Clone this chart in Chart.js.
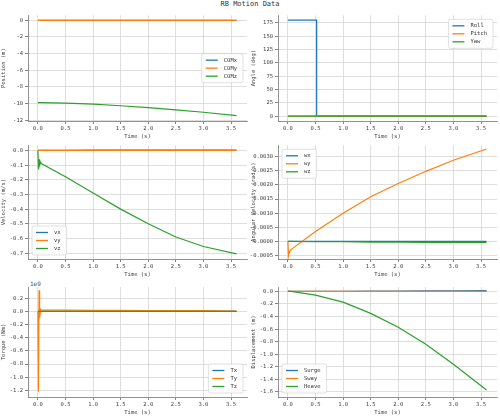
<!DOCTYPE html>
<html><head><meta charset="utf-8">
<script src="https://cdn.jsdelivr.net/npm/chart.js@4"></script>
<style>
body{margin:0;background:#fff;width:500px;height:416px;position:relative;overflow:hidden;font-family:"DejaVu Sans Mono",monospace}
canvas{position:absolute}
#title{position:absolute;top:0;left:0;width:500px;text-align:center;font-size:7px;color:#333}
#e9{position:absolute;left:30px;top:280px;font-size:6px;color:#555}
</style></head><body>
<div id="title">RB Motion Data</div>
<div id="e9">1e9</div>
<canvas id="c0" style="left:0;top:10px;width:250px;height:130px"></canvas>
<canvas id="c1" style="left:250px;top:10px;width:250px;height:130px"></canvas>
<canvas id="c2" style="left:0;top:140px;width:250px;height:138px"></canvas>
<canvas id="c3" style="left:250px;top:140px;width:250px;height:138px"></canvas>
<canvas id="c4" style="left:0;top:278px;width:250px;height:138px"></canvas>
<canvas id="c5" style="left:250px;top:278px;width:250px;height:138px"></canvas>
<script>
// 시간 축 (s)
const t = [0, 0.01, 0.02, 0.03, 0.05, 0.06, 0.5, 1.0, 1.5, 2.0, 2.5, 3.0, 3.6];
// 위치 (m)
const comX = [0, 0, 0, 0, 0, 0, 0, 0, 0, 0, 0, 0, 0];
const comY = [0, 0, 0, 0, 0, 0, 0, 0, 0, 0, 0, 0, 0];
const comZ = [-9.9, -9.9, -9.9, -9.9, -9.9, -9.9, -9.95, -10.08, -10.27, -10.5, -10.76, -11.05, -11.45];
// 각도 (deg)
const tRoll = [0, 0.52, 0.521, 3.6];
const roll = [180, 180, 0, 0];
const pitch = [0, 0, 0, 0];
const yaw = [0, 0, 0, 0];
// 속도 (m/s)
const vx = [0, 0, 0, 0, 0, 0, 0.001, 0.002, 0.002, 0.003, 0.003, 0.003, 0.003];
const vy = [0, 0, 0, 0, 0, 0, 0, 0, 0, 0, 0, 0, 0];
const vz = [0, -0.13, -0.06, -0.1, -0.08, -0.09, -0.18, -0.29, -0.4, -0.5, -0.59, -0.655, -0.705];
// 각속도 (rad/s)
const wx = [0, 0, 0, 0, 0, 0, 0, 0, 0, 0, 0, 0, 0];
const wy = [0, -0.0005, -0.0004, -0.00035, -0.0003, -0.00028, 0.00035, 0.001, 0.00158, 0.00205, 0.00248, 0.00287, 0.00327];
const wz = [0, 0, 0, 0, 0, 0, -0.00001, -0.00001, -0.00002, -0.00002, -0.00003, -0.00003, -0.00003];
// 토크 (x1e9 Nm)
const tx = [0, 0, 0, 0, 0, 0, 0, 0, 0, 0, 0, 0, 0];
const ty = [0, -1.22, 0.32, -0.1, 0.03, 0.02, 0.02, 0.015, 0.015, 0.01, 0.01, 0.01, 0.005];
const tz = [0, 0, 0, 0, 0, 0, 0, 0, 0, 0, 0, 0, 0];
// 변위 (m)
const surge = [0, 0, 0, 0, 0, 0, 0.001, 0.002, 0.004, 0.006, 0.008, 0.01, 0.012];
const sway = [0, 0, 0, 0, 0, 0, 0, 0, 0, 0, 0, 0, 0];
const heave = [0, 0, 0, 0, 0, 0, -0.06, -0.17, -0.35, -0.57, -0.84, -1.16, -1.57];

const colors = ['#1f77b4', '#ff7f0e', '#2ca02c'];
const pts = (xs, ys) => ys.map((y, i) => ({x: xs[i], y: y}));

// 축 안쪽에 그리는 범례
const innerLegend = {
    id: 'innerLegend',
    afterDraw(chart, args, opts) {
        const ctx = chart.ctx, a = chart.chartArea;
        const ds = chart.data.datasets;
        ctx.save();
        ctx.font = '5.5px "DejaVu Sans Mono"';
        const w = 8 + 14 + Math.max(...ds.map(d => ctx.measureText(d.label).width)) + 6;
        const h = ds.length * 8 + 5;
        let x, y;
        const p = opts.pos;
        x = p.includes('left') ? a.left + 4 : a.right - 4 - w;
        if (p.includes('upper')) y = a.top + 4;
        else if (p.includes('lower')) y = a.bottom - 4 - h;
        else y = (a.top + a.bottom) / 2 - h / 2;
        ctx.fillStyle = 'rgba(255,255,255,0.85)';
        ctx.strokeStyle = '#ccc';
        ctx.lineWidth = 0.6;
        ctx.beginPath(); ctx.roundRect(x, y, w, h, 2); ctx.fill(); ctx.stroke();
        ds.forEach((d, i) => {
            const yy = y + 6.5 + i * 8;
            ctx.strokeStyle = d.borderColor; ctx.lineWidth = 1.3;
            ctx.beginPath(); ctx.moveTo(x + 4, yy); ctx.lineTo(x + 16, yy); ctx.stroke();
            ctx.fillStyle = '#333'; ctx.textBaseline = 'middle';
            ctx.fillText(d.label, x + 22, yy);
        });
        ctx.restore();
    }
};

function makeChart(id, series, labels, yTitle, ymin, ymax, step, dec, legendPos, padTop) {
    new Chart(document.getElementById(id), {
        type: 'line',
        data: {
            datasets: series.map((s, i) => ({
                label: labels[i], data: s, borderColor: colors[i], backgroundColor: colors[i],
                borderWidth: 1.2, pointRadius: 0, tension: 0, order: 3 - i
            }))
        },
        options: {
            animation: false, responsive: false,
            layout: {padding: {top: padTop, right: 3, left: 0, bottom: 0}},
            plugins: {legend: {display: false}, tooltip: {enabled: false}, innerLegend: {pos: legendPos}},
            scales: {
                x: {
                    type: 'linear', min: -0.18, max: 3.79,
                    afterBuildTicks: ax => { ax.ticks = [0, 0.5, 1, 1.5, 2, 2.5, 3, 3.5].map(v => ({value: v})); },
                    afterFit: ax => { ax.height = 19; },
                    ticks: {font: {size: 5.5, family: 'DejaVu Sans Mono'}, color: '#444', padding: 1, maxRotation: 0,
                        callback: v => v.toFixed(1)},
                    grid: {color: '#d6d6d6', lineWidth: 0.8, tickLength: 3, tickColor: '#666'},
                    border: {color: '#777', width: 0.8},
                    title: {display: true, text: 'Time (s)', font: {size: 5.5, family: 'DejaVu Sans Mono'}, color: '#444', padding: 0}
                },
                y: {
                    min: ymin, max: ymax,
                    afterBuildTicks: ax => {
                        const out = [];
                        for (let v = Math.ceil(ymin / step) * step; v <= ymax + 1e-12; v += step) out.push({value: +v.toFixed(8)});
                        ax.ticks = out;
                    },
                    afterFit: ax => { ax.width = 28; },
                    ticks: {font: {size: 5.5, family: 'DejaVu Sans Mono'}, color: '#444', padding: 2,
                        callback: v => v.toFixed(dec)},
                    grid: {color: '#d6d6d6', lineWidth: 0.8, tickLength: 3, tickColor: '#666'},
                    border: {color: '#777', width: 0.8},
                    title: {display: true, text: yTitle, font: {size: 5.5, family: 'DejaVu Sans Mono'}, color: '#444', padding: 0}
                }
            }
        },
        plugins: [innerLegend]
    });
}

makeChart('c0', [pts(t, comX), pts(t, comY), pts(t, comZ)], ['COMx', 'COMy', 'COMz'], 'Position (m)', -12.1, 0.6, 2, 0, 'right', 3);
makeChart('c1', [pts(tRoll, roll), pts(tRoll, pitch), pts(tRoll, yaw)], ['Roll', 'Pitch', 'Yaw'], 'Angle (deg)', -9, 189, 25, 0, 'upper right', 3);
makeChart('c2', [pts(t, vx), pts(t, vy), pts(t, vz)], ['vx', 'vy', 'vz'], 'Velocity (m/s)', -0.74, 0.035, 0.1, 1, 'lower left', 5);
makeChart('c3', [pts(t, wx), pts(t, wy), pts(t, wz)], ['wx', 'wy', 'wz'], 'Angular Velocity (rad/s)', -0.00062, 0.0034, 0.0005, 4, 'upper left', 5);
makeChart('c4', [pts(t, tx), pts(t, ty), pts(t, tz)], ['Tx', 'Ty', 'Tz'], 'Torque (Nm)', -1.3, 0.37, 0.2, 1, 'lower right', 9);
makeChart('c5', [pts(t, surge), pts(t, sway), pts(t, heave)], ['Surge', 'Sway', 'Heave'], 'Displacement (m)', -1.68, 0.07, 0.2, 1, 'lower left', 9);
</script>
</body></html>
